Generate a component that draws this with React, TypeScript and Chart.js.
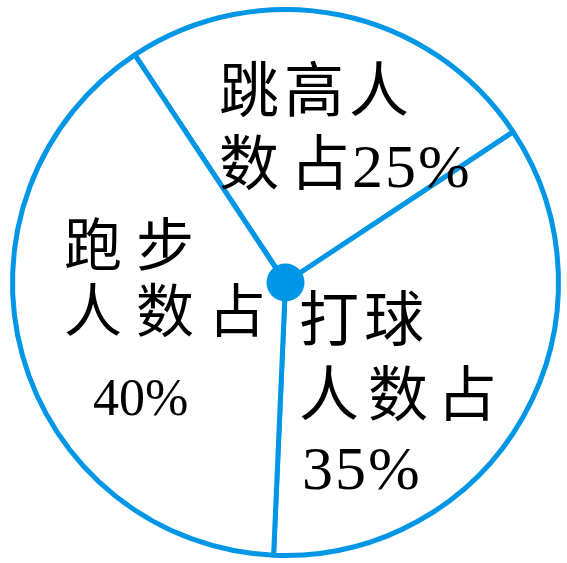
import React, { useEffect, useRef } from "react";
import { Chart, registerables } from "chart.js";

Chart.register(...registerables);

// ---- data ----
const categories = ["跳高", "打球", "跑步"];
const shares = [25, 35, 40];
const percentLabels = ["25%", "35%", "40%"];

const BLUE = "#0096e6";
const FONT_STACK = '"Liberation Serif", "Noto Sans CJK SC", serif';

// ---- label layout (text drawn on top of the pie) ----
type Line = { text: string; x: number; y: number; size: number; spacing: number };
const LINES: Line[] = [
  // 跳高
  { text: categories[0] + "人", x: 219, y: 96, size: 60, spacing: 5 },
  { text: "数占", x: 219, y: 169, size: 60, spacing: 11 },
  { text: percentLabels[0], x: 352, y: 171, size: 62, spacing: 2 },
  // 跑步
  { text: categories[2], x: 64, y: 251, size: 58, spacing: 14 },
  { text: "人数占", x: 64, y: 317, size: 58, spacing: 14 },
  { text: percentLabels[2], x: 93, y: 401, size: 52, spacing: 0 },
  // 打球
  { text: categories[1], x: 299, y: 325, size: 60, spacing: 5 },
  { text: "人数占", x: 299, y: 400, size: 60, spacing: 9 },
  { text: percentLabels[1], x: 302, y: 473, size: 62, spacing: 2 },
];

const overlay = {
  id: "overlay",
  afterDatasetsDraw(chart: any) {
    const ctx: CanvasRenderingContext2D = chart.ctx;
    const arc: any = chart.getDatasetMeta(0).data[0];
    ctx.save();
    ctx.fillStyle = BLUE;
    ctx.beginPath();
    ctx.arc(arc.x, arc.y, 19, 0, Math.PI * 2);
    ctx.fill();
    ctx.fillStyle = "#000";
    ctx.textBaseline = "middle";
    ctx.textAlign = "left";
    for (const l of LINES) {
      ctx.font = `${l.size}px ${FONT_STACK}`;
      (ctx as any).letterSpacing = `${l.spacing}px`;
      ctx.fillText(l.text, l.x, l.y);
    }
    ctx.restore();
  },
};

export default function App() {
  const ref = useRef<HTMLCanvasElement | null>(null);
  useEffect(() => {
    if (!ref.current) return;
    const chart = new Chart(ref.current, {
      type: "pie",
      data: {
        labels: categories,
        datasets: [
          {
            data: shares,
            backgroundColor: "#ffffff",
            borderColor: BLUE,
            borderWidth: 5,
          },
        ],
      },
      options: {
        responsive: false,
        animation: false,
        rotation: -33.5,
        layout: { padding: { left: 10, top: 7, bottom: 5, right: 6 } },
        plugins: {
          legend: { display: false },
          tooltip: { enabled: false },
        },
      },
      plugins: [overlay],
    });
    return () => chart.destroy();
  }, []);
  return (
    <div style={{ position: "fixed", left: 0, top: 0, width: 567, height: 563, background: "#fff" }}>
      <canvas ref={ref} width={567} height={563} />
    </div>
  );
}
